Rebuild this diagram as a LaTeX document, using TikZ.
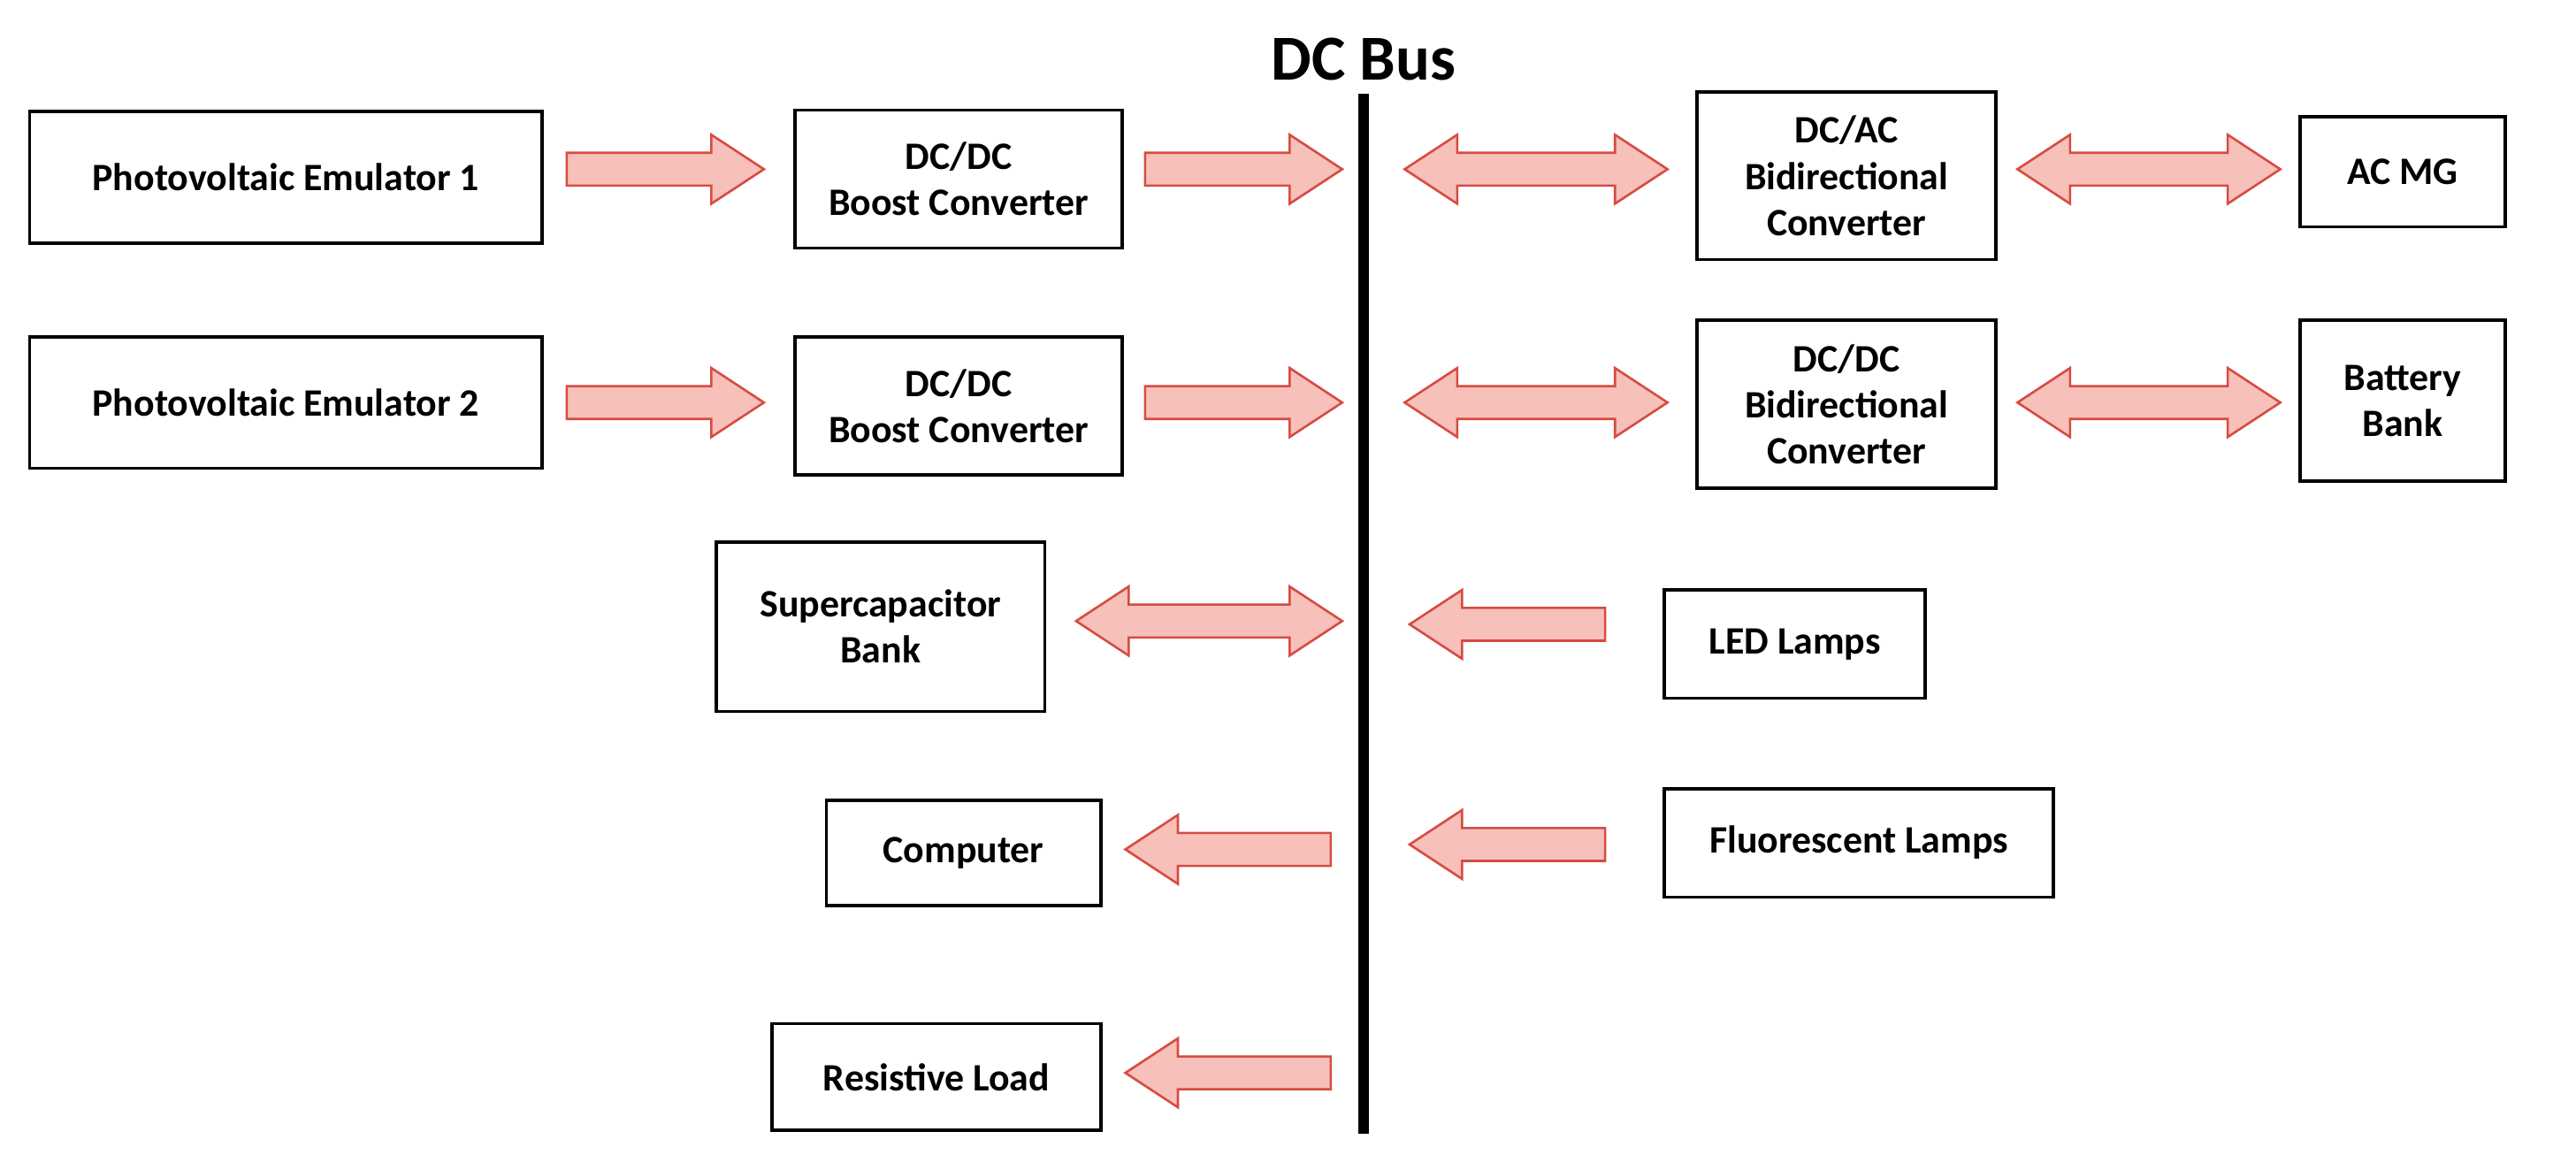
\documentclass[tikz,border=0pt]{standalone}
\usepackage{fontspec}
\setmainfont{Carlito}
\newcommand\rarr[3]{\draw[blk] (#1,{#3-10}) -- ({#2-32},{#3-10}) -- ({#2-32},{#3-21}) -- (#2,#3) -- ({#2-32},{#3+21}) -- ({#2-32},{#3+10}) -- (#1,{#3+10}) -- cycle;}
\newcommand\larr[3]{\draw[blk] (#2,{#3-10}) -- ({#1+32},{#3-10}) -- ({#1+32},{#3-21}) -- (#1,#3) -- ({#1+32},{#3+21}) -- ({#1+32},{#3+10}) -- (#2,{#3+10}) -- cycle;}
\newcommand\darr[3]{\draw[blk] ({#1+32},{#3-10}) -- ({#2-32},{#3-10}) -- ({#2-32},{#3-21}) -- (#2,#3) -- ({#2-32},{#3+21}) -- ({#2-32},{#3+10}) -- ({#1+32},{#3+10}) -- ({#1+32},{#3+21}) -- (#1,#3) -- ({#1+32},{#3-21}) -- cycle;}
\begin{document}
\begin{tikzpicture}[x=0.5pt,y=-0.5pt,
 blk/.style={fill={rgb,255:red,247;green,192;blue,186},draw={rgb,255:red,215;green,75;blue,65},line width=0.7pt},
 box/.style={draw,line width=1pt,align=center,font=\bfseries\fontsize{11.8}{14}\selectfont,inner sep=0pt}]
\useasboundingbox (0,0) rectangle (1568,712);
\newcommand\bx[6]{\node[box,minimum width={(#4-#2)*0.5pt},minimum height={(#5-#3)*0.5pt}] (#1) at ({(#2+#4)/2},{(#3+#5)/2}) {#6};}
\bx{pv1}{18}{68}{330}{148}{Photovoltaic Emulator 1}
\bx{b1}{484}{67}{683}{151}{DC/DC\\Boost Converter}
\bx{ac}{1033}{56}{1215}{158}{DC/AC\\Bidirectional\\Converter}
\bx{mg}{1400}{71}{1525}{138}{AC MG}
\bx{pv2}{18}{205}{330}{285}{Photovoltaic Emulator 2}
\bx{b2}{484}{205}{683}{289}{DC/DC\\Boost Converter}
\bx{bd}{1033}{195}{1215}{297}{DC/DC\\Bidirectional\\Converter}
\bx{bat}{1400}{195}{1525}{293}{Battery\\Bank}
\bx{sc}{436}{330}{636}{433}{Supercapacitor\\Bank}
\bx{led}{1013}{359}{1172}{425}{LED Lamps}
\bx{pc}{503}{487}{670}{551}{Computer}
\bx{fl}{1013}{480}{1250}{546}{Fluorescent Lamps}
\bx{rl}{470}{623}{670}{688}{Resistive Load}
\coordinate (bt) at (830,57); \coordinate (bb) at (830,690);
\draw[line width=3pt] (bt) -- (bb);
\node[font=\bfseries\fontsize{19.5}{22}\selectfont] (title) at (830,36) {DC Bus};
\rarr{345}{465}{103} \rarr{697}{817}{103} \darr{855}{1015}{103} \darr{1228}{1388}{103}
\rarr{345}{465}{245} \rarr{697}{817}{245} \darr{855}{1015}{245} \darr{1228}{1388}{245}
\darr{655}{817}{378} \larr{858}{977}{380}
\larr{685}{810}{517} \larr{858}{977}{514}
\larr{685}{810}{653}
\end{tikzpicture}
\end{document}
